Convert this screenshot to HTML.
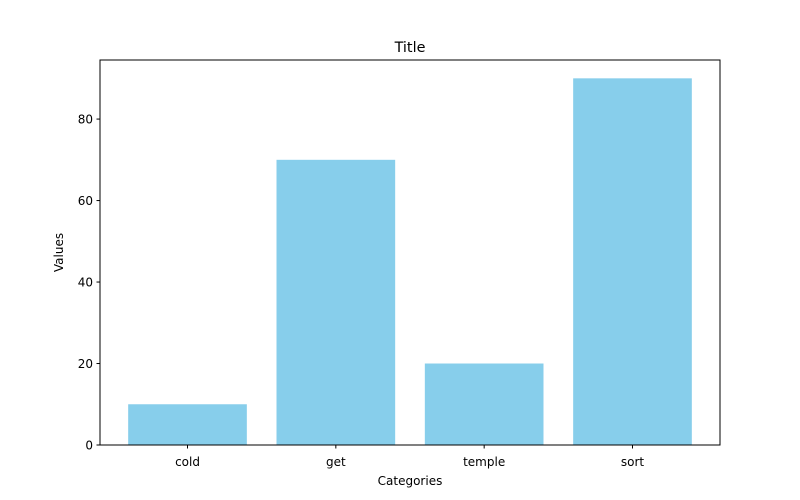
<!DOCTYPE html>
<html><head><meta charset="utf-8"><style>
body{margin:0;background:#fff;}
svg{display:block;font-family:"DejaVu Sans","Liberation Sans",sans-serif;}
</style></head><body>
<svg id="chart" width="800" height="500">
<rect width="800" height="500" fill="#fff"/>
<text x="410" y="52" font-size="14.4" text-anchor="middle">Title</text>
<text x="410" y="485" font-size="12" text-anchor="middle">Categories</text>
<text transform="translate(63,252.5) rotate(-90)" font-size="12" text-anchor="middle">Values</text>
<g id="bars"></g><g id="ticks"></g>
<rect x="100" y="60" width="620" height="385" fill="none" stroke="#000" stroke-width="1"/>
</svg>
<script>
const categories = ["cold","get","temple","sort"];
const values = [10,70,20,90];
const yTicks = [0,20,40,60,80];
const L=100,R=720,T=60,B=445;
const ymax=Math.max(...values)*1.05;
const xmin=-0.59,xmax=categories.length-1+0.59;
const xs=v=>L+(v-xmin)/(xmax-xmin)*(R-L);
const ys=v=>B-v/ymax*(B-T);
const NS="http://www.w3.org/2000/svg";
const bars=document.getElementById('bars'),ticks=document.getElementById('ticks');
function mk(tag,attrs,parent){const e=document.createElementNS(NS,tag);for(const k in attrs)e.setAttribute(k,attrs[k]);parent.appendChild(e);return e;}
categories.forEach((c,i)=>{
  const r=mk('rect',{x:xs(i-0.4),y:ys(values[i]),width:xs(i+0.4)-xs(i-0.4),height:B-ys(values[i]),fill:'#87ceeb'},bars);
  
  
  const t=mk('line',{x1:xs(i),x2:xs(i),y1:B,y2:B+3.5,stroke:'#000'},ticks);
  
  
  const l=mk('text',{x:xs(i),y:B+21,'font-size':12,'text-anchor':'middle'},ticks);
  l.textContent=c;
  
  
});
yTicks.forEach(v=>{
  const t=mk('line',{x1:L-3.5,x2:L,y1:ys(v),y2:ys(v),stroke:'#000'},ticks);
  
  
  const l=mk('text',{x:L-7,y:ys(v)+4.5,'font-size':12,'text-anchor':'end'},ticks);
  l.textContent=v;
  
  
});
</script>
</body></html>
